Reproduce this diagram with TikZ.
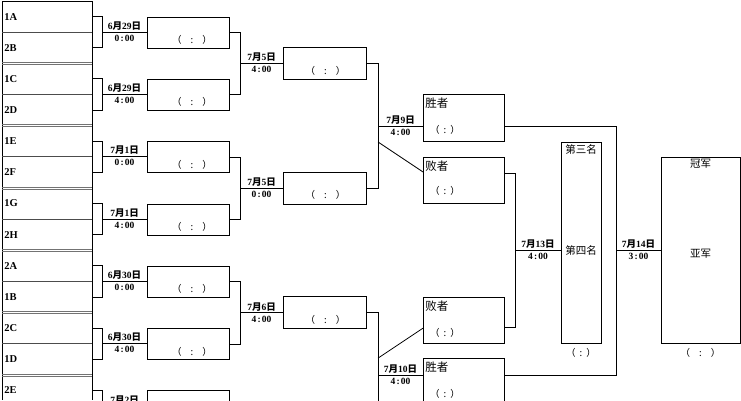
\documentclass[tikz,border=0pt]{standalone}
\usepackage{fontspec}
\setmainfont{Liberation Serif}
\newfontfamily\cjk{Noto Sans CJK SC}
\usetikzlibrary{calc}
\newcommand\mydate[2]{#1{\cjk 月}#2{\cjk 日}}
\newcommand\mytime[2]{#1\hspace{1.2pt}:\hspace{1.2pt}#2}
\newcommand\scwide{{\cjk （\hspace{9pt}:\hspace{9pt}）}}
\newcommand\scsmall{{\cjk （\hspace{4pt}:\hspace{4pt}）}}
\begin{document}
\begin{tikzpicture}[x=1pt,y=-1pt,line width=0.8pt,
  cell/.style={anchor=north west, minimum width=90pt, minimum height=31.15pt, inner sep=0pt, outer sep=0pt},
  team/.style={anchor=west, inner sep=0pt, font=\bfseries\fontsize{10.5}{12}\selectfont},
  box/.style={draw, anchor=north west, inner sep=0pt, outer sep=0pt},
  dt/.style={inner sep=0.5pt, font=\bfseries\fontsize{9.5}{10}\selectfont},
  sc/.style={inner sep=0pt, font=\fontsize{9.5}{10}\selectfont},
  big/.style={inner sep=0pt, font=\cjk\fontsize{11.5}{12}\selectfont},
  mid/.style={inner sep=0pt, font=\cjk\fontsize{10.5}{12}\selectfont},
  sep/.style={line width=0.6pt, black!55}]
\useasboundingbox (0,0) rectangle (741,400);
\clip (0,0) rectangle (741,400);
% team column frame
\draw (2,1) -- (92,1);
\draw (2,1) -- (2,400);
\draw (92,1) -- (92,400);
% first round
\foreach \k/\a/\b/\mo/\dd/\hr/\mn in {0/1A/2B/6/29/0/00,1/1C/2D/6/29/4/00,2/1E/2F/7/1/0/00,3/1G/2H/7/1/4/00,4/2A/1B/6/30/0/00,5/2C/1D/6/30/4/00,6/2E//7/2//}{
  \pgfmathsetmacro\T{1+62.3*\k}
  \node[cell] (ta\k) at (2,\T) {};
  \node[cell] (tb\k) at (2,\T+31.15) {};
  \node[team] (la\k) at ($(ta\k.west)+(2,0)$) {\a};
  \node[team] (lb\k) at ($(tb\k.west)+(2,0)$) {\b};
  \draw[black!70] (ta\k.south west) -- (ta\k.south east);
  \ifnum\k>0
    \draw[sep] (2,\T-1) -- (92,\T-1) (2,\T+1) -- (92,\T+1);
  \fi
  \node[box, minimum width=82pt, minimum height=31pt] (m\k) at (147,\T+16) {};
  \draw (ta\k.east) -- ++(10,0) |- (tb\k.east);
  \coordinate (j\k) at ($(ta\k.east)!.5!(tb\k.east)+(10,0)$);
  \draw (j\k) -- (m\k.west |- j\k);
  \node[dt, anchor=south] (d\k) at ($(j\k)+(22.5,-1)$) {\mydate{\mo}{\dd}};
  \ifnum\k<6
    \node[sc] (s\k) at ($(m\k.south)+(4,-8)$) {\scwide};
    \node[dt, anchor=north] (h\k) at ($(j\k)+(22.5,2)$) {\mytime{\hr}{\mn}};
  \fi
}
% second round
\foreach \j/\mo/\dd/\hr in {0/7/5/4,1/7/5/0,2/7/6/4}{
  \pgfmathtruncatemacro\p{2*\j}
  \pgfmathtruncatemacro\q{2*\j+1}
  \draw (m\p.east) -- ++(11,0) |- (m\q.east);
  \coordinate (jj\j) at ($(m\p.east)!.5!(m\q.east)+(11,0)$);
  \node[box, anchor=west, minimum width=83pt, minimum height=32pt] (r\j) at ($(jj\j)+(43,0)$) {};
  \node[sc] (rs\j) at ($(r\j.south)+(1,-9)$) {\scwide};
  \draw (jj\j) -- (r\j.west);
  \node[dt, anchor=south] (rd\j) at ($(jj\j)+(21.5,-1)$) {\mydate{\mo}{\dd}};
  \node[dt, anchor=north] (rh\j) at ($(jj\j)+(21.5,2)$) {\mytime{\hr}{00}};
}
% semifinal 1
\draw (r0.east) -- ++(12,0) |- (r1.east);
\coordinate (sa) at ($(r0.east)!.5!(r1.east)+(12,0)$);
\node[box, minimum width=81pt, minimum height=47pt] (w1) at ($(sa)+(45,-32)$) {};
\node[box, minimum width=81pt, minimum height=46pt] (l1) at ($(sa)+(45,31)$) {};
\draw (sa) -- (w1.west |- sa);
\coordinate (sad) at ($(sa)+(0,16)$);
\draw (sad) -- ($(l1.north west)+(0,15)$);
\node[dt, anchor=south] (sd1) at ($(sa)+(22.5,-1)$) {\mydate{7}{9}};
\node[dt, anchor=north] (sh1) at ($(sa)+(22.5,2)$) {\mytime{4}{00}};
\node[big, anchor=west] (w1t) at ($(w1.north west)+(2,9)$) {胜者};
\node[sc] (w1s) at ($(w1.north west)+(22,36)$) {\scsmall};
\node[big, anchor=west] (l1t) at ($(l1.north west)+(2,9)$) {败者};
\node[sc] (l1s) at ($(l1.north west)+(22,34)$) {\scsmall};
% semifinal 2
\coordinate (sb) at ($(r2.east)+(12,62.3)$);
\coordinate (sbe) at ($(r2.east)+(12,100)$);
\draw (r2.east) -- ++(12,0) -- (sbe);
\node[box, minimum width=81pt, minimum height=47pt] (w2) at ($(sb)+(45,-17)$) {};
\node[box, minimum width=81pt, minimum height=46pt] (l2) at ($(sb)+(45,-78)$) {};
\draw (sb) -- (w2.west |- sb);
\coordinate (sbd) at ($(sb)+(0,-17)$);
\draw (sbd) -- ($(l2.north west)+(0,31)$);
\node[dt, anchor=south] (sd2) at ($(sb)+(22.5,-1)$) {\mydate{7}{10}};
\node[dt, anchor=north] (sh2) at ($(sb)+(22.5,2)$) {\mytime{4}{00}};
\node[big, anchor=west] (w2t) at ($(w2.north west)+(2,9)$) {胜者};
\node[sc] (w2s) at ($(w2.north west)+(22,36)$) {\scsmall};
\node[big, anchor=west] (l2t) at ($(l2.north west)+(2,9)$) {败者};
\node[sc] (l2s) at ($(l2.north west)+(22,36)$) {\scsmall};
% third place
\node[box, minimum width=40pt, minimum height=201pt] (third) at (561,142) {};
\coordinate (ta) at ($(l1.north east)+(0,16)$);
\coordinate (tb) at ($(l2.north east)+(0,30)$);
\draw (ta) -- ++(11,0) |- (tb);
\coordinate (tj) at ($(ta)!.5!(tb)+(11,0)$);
\draw (tj) -- (third.west |- tj);
\node[dt, anchor=south] (td) at ($(tj)+(23,-1)$) {\mydate{7}{13}};
\node[dt, anchor=north] (th) at ($(tj)+(23,2)$) {\mytime{4}{00}};
\node[mid] (t3) at ($(third.north)+(0,7)$) {第三名};
\node[mid] (t4) at (third.center |- tj) {第四名};
\node[sc] (ts) at ($(third.south)+(0,10)$) {\scsmall};
% final
\node[box, minimum width=79pt, minimum height=186pt] (final) at (661,157) {};
\coordinate (fa) at (w1.east |- sa);
\coordinate (fb) at (w2.east |- sb);
\draw (fa) -- (616,0 |- fa) |- (fb);
\coordinate (fj) at ($(616,0 |- fa)!.5!(616,0 |- fb)$);
\draw (fj) -- (final.west |- fj);
\node[dt, anchor=south] (fd) at ($(fj)+(22.5,-1)$) {\mydate{7}{14}};
\node[dt, anchor=north] (fh) at ($(fj)+(22.5,2)$) {\mytime{3}{00}};
\node[mid] (champ) at ($(final.north)+(0,7)$) {冠军};
\node[mid] (runner) at ($(final.center |- fj)+(0,3)$) {亚军};
\node[sc] (fs) at ($(final.south)+(0,10)$) {\scwide};
\end{tikzpicture}
\end{document}
